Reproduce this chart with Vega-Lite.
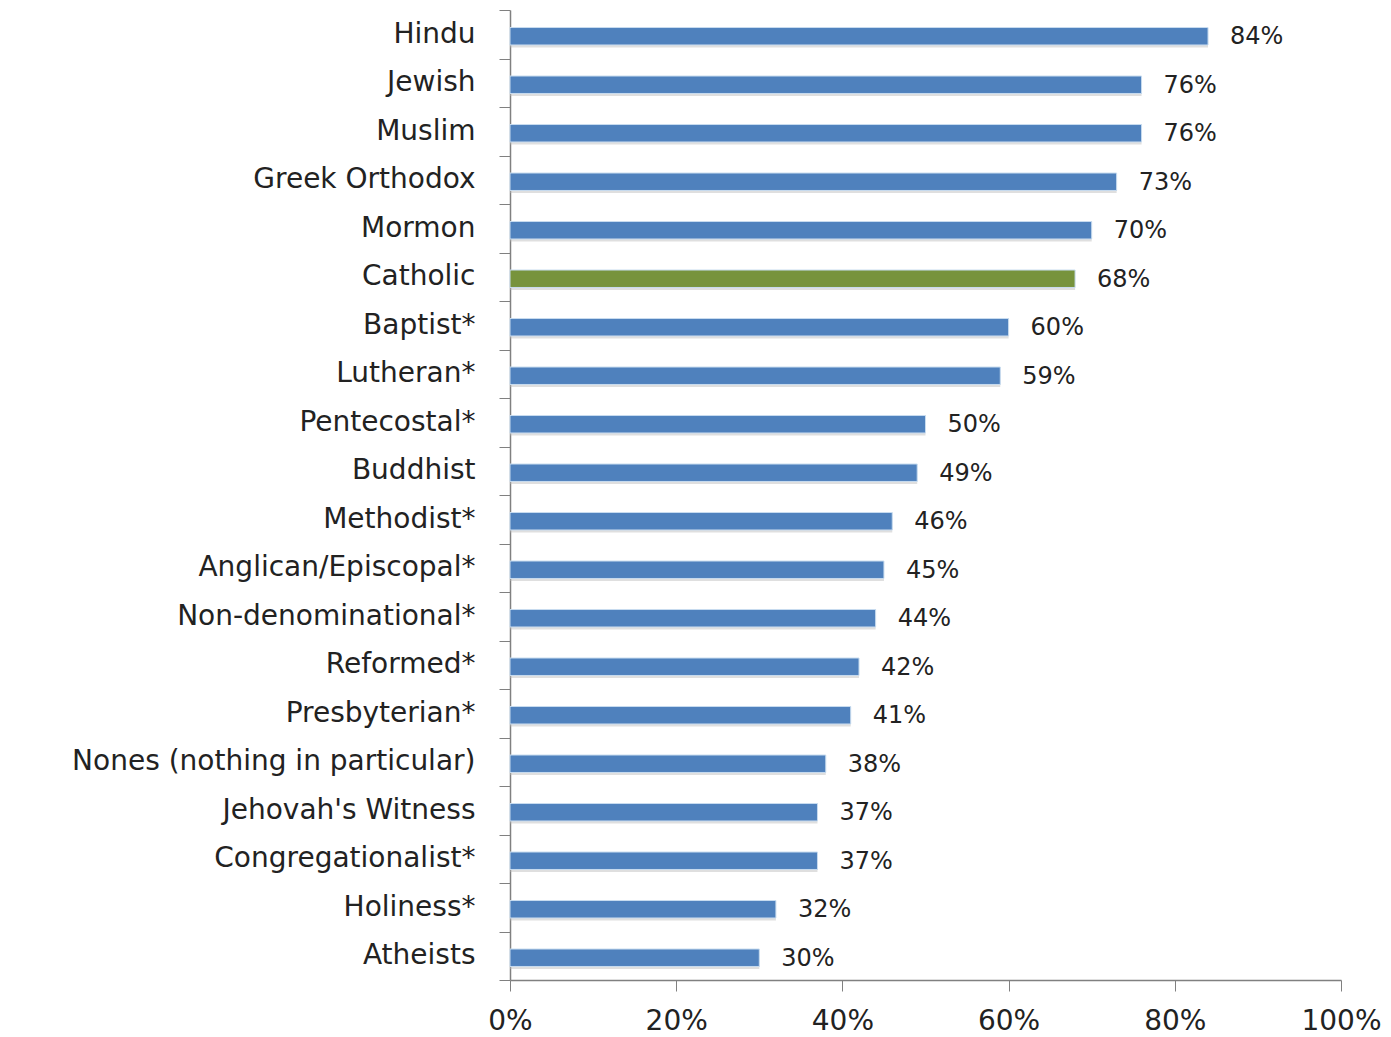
{
  "$schema": "https://vega.github.io/schema/vega-lite/v6.json",
  "width": 831,
  "height": 970,
  "autosize": {"type": "none"},
  "padding": {"left": 510, "top": 10, "right": 50, "bottom": 57},
  "background": "white",
  "config": {"view": {"stroke": null}, "font": "DejaVu Sans"},
  "data": {
    "values": [
      {"group": "Hindu", "pct": 84, "label": "84%", "highlight": "no"},
      {"group": "Jewish", "pct": 76, "label": "76%", "highlight": "no"},
      {"group": "Muslim", "pct": 76, "label": "76%", "highlight": "no"},
      {"group": "Greek Orthodox", "pct": 73, "label": "73%", "highlight": "no"},
      {"group": "Mormon", "pct": 70, "label": "70%", "highlight": "no"},
      {"group": "Catholic", "pct": 68, "label": "68%", "highlight": "yes"},
      {"group": "Baptist*", "pct": 60, "label": "60%", "highlight": "no"},
      {"group": "Lutheran*", "pct": 59, "label": "59%", "highlight": "no"},
      {"group": "Pentecostal*", "pct": 50, "label": "50%", "highlight": "no"},
      {"group": "Buddhist", "pct": 49, "label": "49%", "highlight": "no"},
      {"group": "Methodist*", "pct": 46, "label": "46%", "highlight": "no"},
      {"group": "Anglican/Episcopal*", "pct": 45, "label": "45%", "highlight": "no"},
      {"group": "Non-denominational*", "pct": 44, "label": "44%", "highlight": "no"},
      {"group": "Reformed*", "pct": 42, "label": "42%", "highlight": "no"},
      {"group": "Presbyterian*", "pct": 41, "label": "41%", "highlight": "no"},
      {"group": "Nones (nothing in particular)", "pct": 38, "label": "38%", "highlight": "no"},
      {"group": "Jehovah's Witness", "pct": 37, "label": "37%", "highlight": "no"},
      {"group": "Congregationalist*", "pct": 37, "label": "37%", "highlight": "no"},
      {"group": "Holiness*", "pct": 32, "label": "32%", "highlight": "no"},
      {"group": "Atheists", "pct": 30, "label": "30%", "highlight": "no"}
    ]
  },
  "encoding": {
    "y": {
      "field": "group",
      "type": "nominal",
      "sort": null,
      "scale": {"paddingInner": 0, "paddingOuter": 0},
      "axis": {
        "title": null,
        "tickBand": "extent",
        "tickSize": 11,
        "tickColor": "#808080",
        "domainColor": "#808080",
        "domainWidth": 1.5,
        "labelFontSize": 28,
        "labelColor": "#222222",
        "labelPadding": 24,
        "labelLimit": 600
      }
    },
    "x": {
      "field": "pct",
      "type": "quantitative",
      "scale": {"domain": [0, 100]},
      "axis": {
        "title": null,
        "values": [0, 20, 40, 60, 80, 100],
        "labelExpr": "datum.value + '%'",
        "grid": false,
        "tickSize": 11,
        "tickColor": "#808080",
        "domainColor": "#808080",
        "domainWidth": 1.5,
        "labelFontSize": 28,
        "labelColor": "#222222",
        "labelPadding": 16,
        "labelFlush": false
      }
    }
  },
  "layer": [
    {
      "mark": {"type": "bar", "height": {"band": 0.3}, "yOffset": 6, "color": "#b8b8b8", "opacity": 0.45},
      "encoding": {}
    },
    {
      "mark": {"type": "bar", "height": {"band": 0.36}, "yOffset": 2, "stroke": "#c8dcef", "strokeWidth": 1},
      "encoding": {
        "color": {
          "field": "highlight",
          "type": "nominal",
          "scale": {"domain": ["no", "yes"], "range": ["#4f81bd", "#77933c"]},
          "legend": null
        }
      }
    },
    {
      "mark": {"type": "text", "align": "left", "baseline": "middle", "dx": 22, "dy": 3, "fontSize": 24, "color": "#222222"},
      "encoding": {"text": {"field": "label", "type": "nominal"}}
    }
  ]
}
